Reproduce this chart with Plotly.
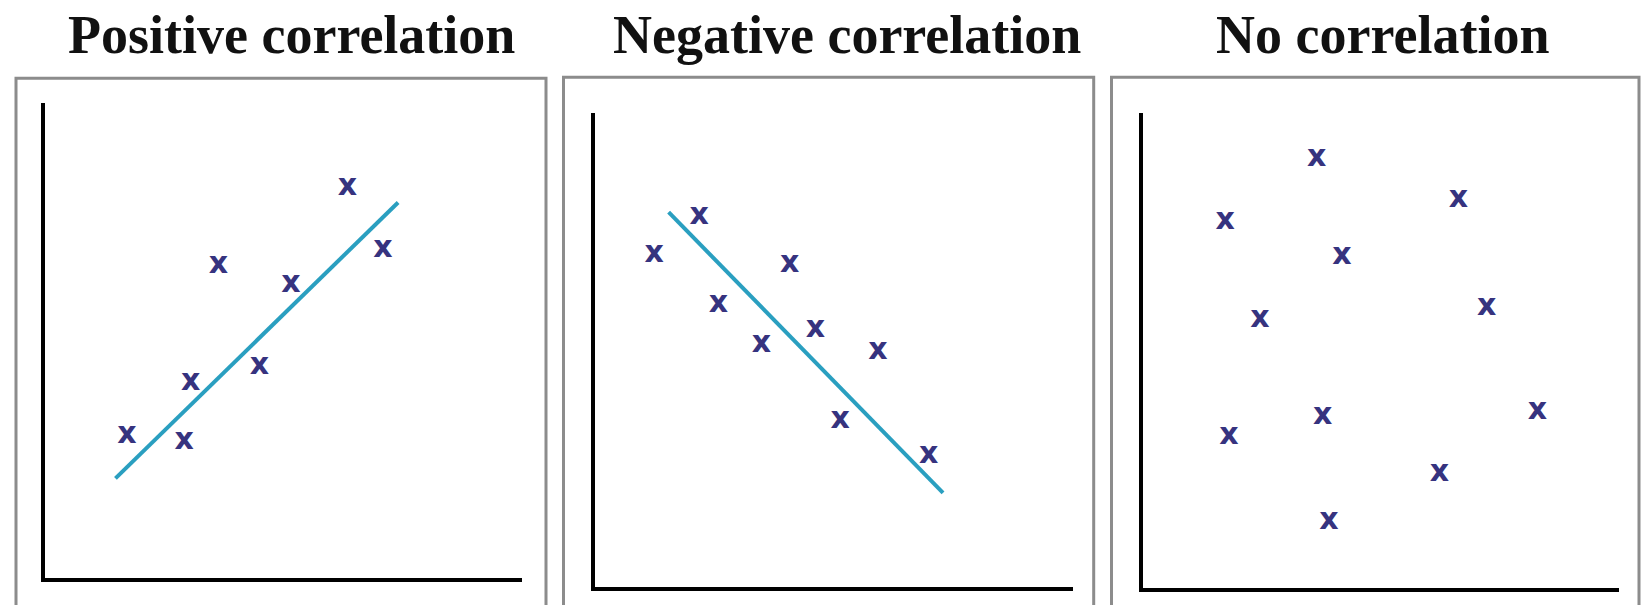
import plotly.graph_objects as go

# Scatter values per panel (axis units 0-10)
titles = ["Positive correlation", "Negative correlation", "No correlation"]

pos_x = [1.71, 2.91, 3.05, 3.63, 4.49, 5.15, 6.34, 7.08]
pos_y = [2.99, 2.86, 4.12, 6.58, 4.45, 6.18, 8.23, 6.91]
pos_fit_x = [1.47, 7.40]
pos_fit_y = [2.09, 7.91]

neg_x = [1.25, 2.19, 2.59, 3.49, 4.08, 4.62, 5.93, 5.14, 6.99]
neg_y = [7.01, 7.81, 5.96, 5.12, 6.81, 5.43, 4.98, 3.52, 2.78]
neg_fit_x = [1.55, 7.29]
neg_fit_y = [7.91, 1.99]

none_x = [1.72, 3.64, 4.17, 2.45, 6.62, 7.21, 1.80, 3.77, 8.28, 6.22, 3.90]
none_y = [7.71, 9.05, 6.98, 5.66, 8.17, 5.91, 3.20, 3.61, 3.73, 2.41, 1.40]

W, H = 1643, 605
POINT_COLOR = "#36337f"
FIT_COLOR = "#2a9fc0"

# Plot areas in pixels: (left, right, top, bottom)
areas = [(45.4, 522.0, 103.4, 577.5),
         (594.5, 1072.6, 113.0, 587.2),
         (1143.3, 1619.4, 113.0, 588.3)]
# Framing boxes in pixels: (left, right, top)
frames = [(16.0, 546.0, 78.3), (563.5, 1093.7, 77.2), (1111.5, 1639.0, 77.2)]
title_cx = [291, 847, 1382]

fig = go.Figure()

panels = [
    (pos_x, pos_y, pos_fit_x, pos_fit_y),
    (neg_x, neg_y, neg_fit_x, neg_fit_y),
    (none_x, none_y, None, None),
]

layout_axes = {}
for i, (px, py, fx, fy) in enumerate(panels):
    n = "" if i == 0 else str(i + 1)
    xa, ya = "x" + n, "y" + n
    if fx is not None:
        fig.add_trace(go.Scatter(x=fx, y=fy, mode="lines", xaxis=xa, yaxis=ya,
                                 line=dict(color=FIT_COLOR, width=4),
                                 hoverinfo="skip", showlegend=False))
    fig.add_trace(go.Scatter(x=px, y=py, mode="text", text=["x"] * len(px),
                             xaxis=xa, yaxis=ya,
                             textfont=dict(family="DejaVu Sans", size=30,
                                           color=POINT_COLOR, weight="bold"),
                             showlegend=False))
    l, r, t, b = areas[i]
    common = dict(showgrid=False, zeroline=False, showticklabels=False,
                  ticks="", showline=True, linecolor="black", linewidth=4,
                  range=[0, 10], fixedrange=True)
    layout_axes["xaxis" + n] = dict(domain=[l / W, r / W], anchor=ya, **common)
    layout_axes["yaxis" + n] = dict(domain=[1 - b / H, 1 - t / H], anchor=xa, **common)

    fl, fr, ft = frames[i]
    fig.add_shape(type="rect", xref="paper", yref="paper",
                  x0=fl / W, x1=fr / W, y0=-0.1, y1=1 - ft / H,
                  line=dict(color="#8c8c8c", width=3), layer="below")
    fig.add_annotation(text="<b>" + titles[i] + "</b>", xref="paper", yref="paper",
                       x=title_cx[i] / W, y=1 - 35 / H, xanchor="center", yanchor="middle",
                       showarrow=False,
                       font=dict(family="Liberation Serif", size=54, color="#111111"))

fig.update_layout(width=W, height=H, margin=dict(l=0, r=0, t=0, b=0),
                  paper_bgcolor="white", plot_bgcolor="rgba(0,0,0,0)",
                  **layout_axes)

fig.write_html("out.html")
